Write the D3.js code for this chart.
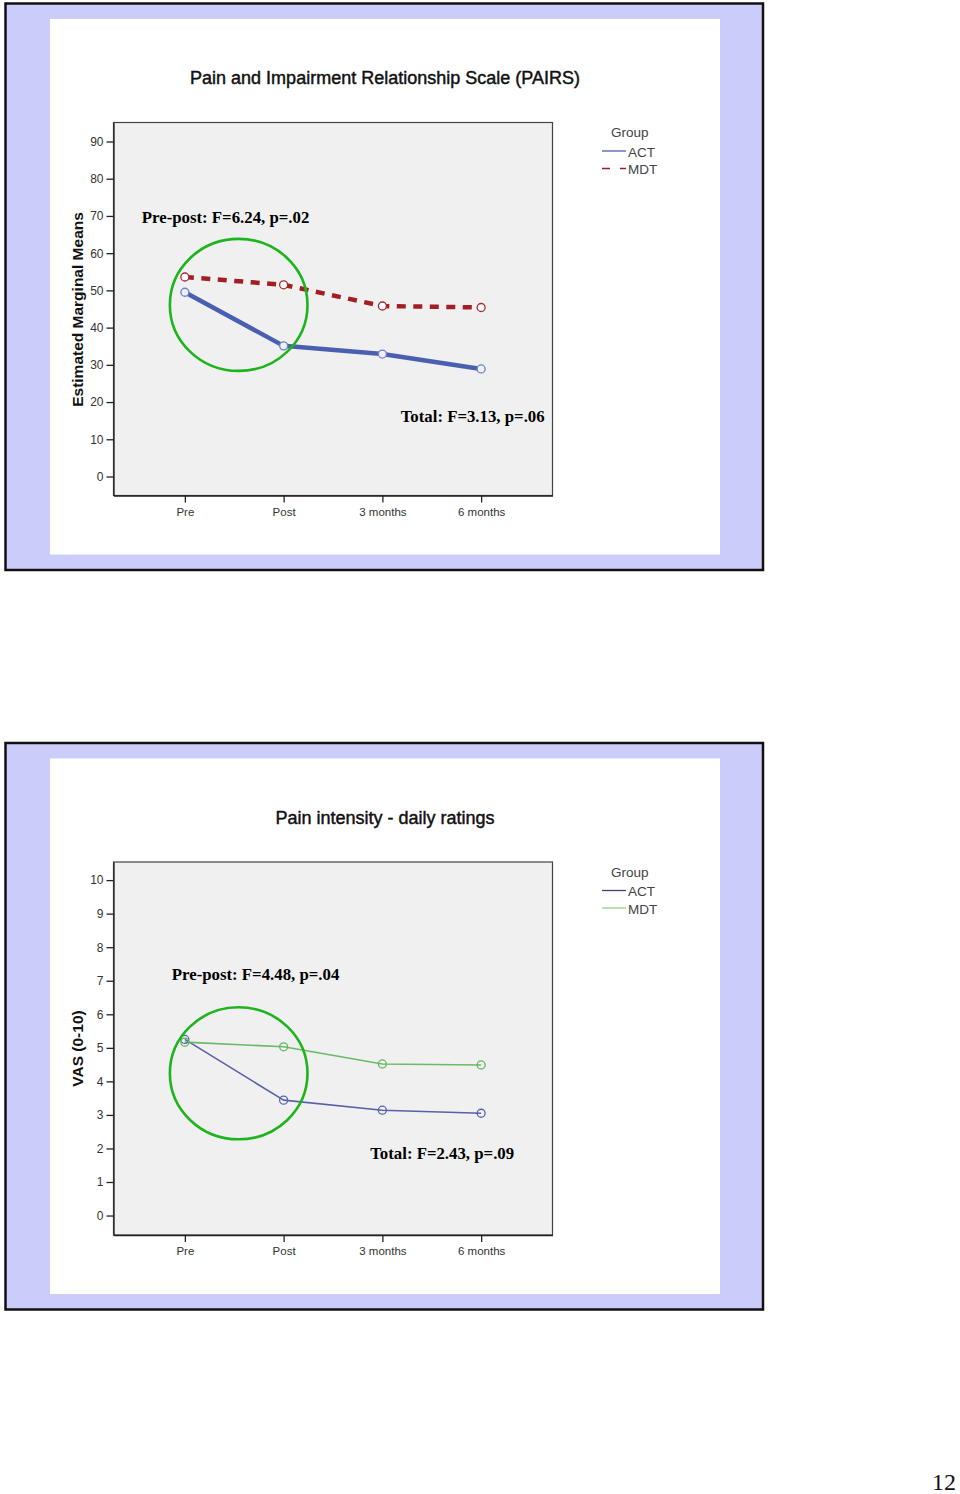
<!DOCTYPE html>
<html>
<head>
<meta charset="utf-8">
<script src="https://cdn.jsdelivr.net/npm/d3@7"></script>
<style>
  html, body { margin: 0; padding: 0; background: #ffffff; }
  svg { display: block; }
</style>
</head>
<body>
<svg id="page" width="960" height="1494"></svg>
<script>
// ---------- data ----------
const timepoints = ["Pre", "Post", "3 months", "6 months"];
const groups = ["ACT", "MDT"];

const pairsTitle = "Pain and Impairment Relationship Scale (PAIRS)";
const pairsYLabel = "Estimated Marginal Means";
const pairsTicks = [0, 10, 20, 30, 40, 50, 60, 70, 80, 90];
const pairsACT = [49.5, 35.1, 32.9, 28.9];
const pairsMDT = [53.6, 51.5, 45.8, 45.4];
const pairsPrePost = "Pre-post: F=6.24, p=.02";
const pairsTotal = "Total: F=3.13, p=.06";

const vasTitle = "Pain intensity - daily ratings";
const vasYLabel = "VAS (0-10)";
const vasTicks = [0, 1, 2, 3, 4, 5, 6, 7, 8, 9, 10];
const vasACT = [5.25, 3.44, 3.14, 3.05];
const vasMDT = [5.17, 5.03, 4.52, 4.49];
const vasPrePost = "Pre-post: F=4.48, p=.04";
const vasTotal = "Total: F=2.43, p=.09";

const pageNumber = "12";

// ---------- drawing ----------
const svg = d3.select("#page");
const SANS = "Arial, 'Liberation Sans', Helvetica, sans-serif";
const SERIF = "'Times New Roman', 'Liberation Serif', serif";

function drawPanel(cfg) {
  const oy = cfg.offsetY;
  const g = svg.append("g").attr("transform", `translate(0,${oy})`);

  // slide frame
  g.append("rect").attr("x", 5.5).attr("y", 3.5).attr("width", 757.5).attr("height", 566.5)
    .attr("fill", "#ccccfb").attr("stroke", "#111").attr("stroke-width", 2.5);
  g.append("rect").attr("x", 50).attr("y", 19).attr("width", 670).attr("height", 535.5)
    .attr("fill", "#ffffff");

  // title
  g.append("text").attr("x", 385).attr("y", 84).attr("text-anchor", "middle")
    .attr("font-family", SANS).attr("font-size", 18).attr("fill", "#111")
    .attr("stroke", "#111").attr("stroke-width", 0.45)
    .text(cfg.title);

  const plot = { left: 113.5, top: 122.5, width: 439, height: 373 };

  const x = d3.scalePoint().domain(timepoints)
    .range([plot.left, plot.left + plot.width]).padding(0.7226);
  const y = d3.scaleLinear().domain(cfg.yDomain)
    .range([plot.top + plot.height, plot.top]);

  // plot background
  g.append("rect").attr("x", plot.left).attr("y", plot.top)
    .attr("width", plot.width).attr("height", plot.height)
    .attr("fill", "#f0f0f0").attr("stroke", "#444").attr("stroke-width", 1.2);

  // y axis
  const yAxis = g.append("g").attr("transform", `translate(${plot.left},0)`)
    .call(d3.axisLeft(y).tickValues(cfg.ticks).tickSizeInner(7).tickSizeOuter(0)
      .tickPadding(3).tickFormat(d3.format("d")));
  yAxis.select(".domain").attr("stroke", "#222").attr("stroke-width", 1.3);
  yAxis.selectAll(".tick line").attr("stroke", "#222").attr("stroke-width", 1.3);
  yAxis.selectAll(".tick text").attr("font-family", SANS).attr("font-size", 12).attr("fill", "#333");

  // x axis
  const xAxis = g.append("g").attr("transform", `translate(0,${plot.top + plot.height})`)
    .call(d3.axisBottom(x).tickSizeInner(7).tickSizeOuter(0).tickPadding(5));
  xAxis.select(".domain").attr("stroke", "#222").attr("stroke-width", 1.3);
  xAxis.selectAll(".tick line").attr("stroke", "#222").attr("stroke-width", 1.3);
  xAxis.selectAll(".tick text").attr("font-family", SANS).attr("font-size", 11.5).attr("fill", "#333");

  // y label
  g.append("text")
    .attr("transform", `translate(${82.5},${cfg.yLabelCenter}) rotate(-90)`)
    .attr("text-anchor", "middle").attr("font-family", SANS).attr("font-weight", "bold")
    .attr("font-size", 15.5).attr("fill", "#111").text(cfg.yLabel);

  // lines
  const line = d3.line().x((d, i) => x(timepoints[i])).y(d => y(d));
  cfg.series.forEach(s => {
    g.append("path").datum(s.values).attr("d", line)
      .attr("fill", "none").attr("stroke", s.color).attr("stroke-width", s.width)
      .attr("stroke-dasharray", s.dash || null)
      .attr("stroke-linejoin", "round");
  });
  cfg.series.forEach(s => {
    g.selectAll(null).data(s.values).enter().append("circle")
      .attr("cx", (d, i) => x(timepoints[i])).attr("cy", d => y(d)).attr("r", 4)
      .attr("fill", s.markerFill).attr("stroke", s.markerStroke).attr("stroke-width", 1.3);
  });

  // highlight ellipse between Pre and Post
  const step = x.step();
  g.append("ellipse")
    .attr("cx", x("Pre") + step * 0.545)
    .attr("cy", y(cfg.ellipseY))
    .attr("rx", 68.8).attr("ry", 66)
    .attr("fill", "none").attr("stroke", "#1db41d").attr("stroke-width", 2.6);

  // annotations
  g.append("text").attr("x", plot.left + cfg.prePostDX).attr("y", y(cfg.prePostY))
    .attr("font-family", SERIF).attr("font-weight", "bold").attr("font-size", 16.8)
    .attr("fill", "#000").text(cfg.prePost);
  g.append("text").attr("x", x("6 months") + cfg.totalDX).attr("y", y(cfg.totalY))
    .attr("text-anchor", "end")
    .attr("font-family", SERIF).attr("font-weight", "bold").attr("font-size", 16.8)
    .attr("fill", "#000").text(cfg.total);

  // legend
  const lg = g.append("g");
  lg.append("text").attr("x", 611).attr("y", 137).attr("font-family", SANS)
    .attr("font-size", 13.5).attr("fill", "#444").text("Group");
  cfg.series.forEach((s, i) => {
    const ly = 151 + i * 17.5;
    lg.append("line").attr("x1", 602).attr("x2", 626).attr("y1", ly).attr("y2", ly)
      .attr("stroke", s.legendColor).attr("stroke-width", 1.3)
      .attr("stroke-dasharray", s.dash ? "8,10" : null);
    lg.append("text").attr("x", 628).attr("y", ly + 5.5).attr("font-family", SANS)
      .attr("font-size", 13.5).attr("fill", "#444").text(groups[i]);
  });
}

drawPanel({
  offsetY: 0,
  title: pairsTitle,
  yLabel: pairsYLabel,
  yLabelCenter: 309.5,
  ticks: pairsTicks,
  yDomain: [-5.1, 95.1],
  ellipseY: 46.1,
  prePost: pairsPrePost, prePostDX: 28.3, prePostY: 68.2,
  total: pairsTotal, totalDX: 63.5, totalY: 14.7,
  series: [
    { values: pairsACT, color: "#4a5fb0", width: 4.5, markerFill: "#eef0f6", markerStroke: "#6f80c8", legendColor: "#4a5fb0" },
    { values: pairsMDT, color: "#a31e24", width: 4.5, dash: "9,7.5", markerFill: "#ffffff", markerStroke: "#a52a30", legendColor: "#a31e24" }
  ]
});

drawPanel({
  offsetY: 739.5,
  title: vasTitle,
  yLabel: vasYLabel,
  yLabelCenter: 309,
  ticks: vasTicks,
  yDomain: [-0.58, 10.54],
  ellipseY: 4.24,
  prePost: vasPrePost, prePostDX: 58.3, prePostY: 7.02,
  total: vasTotal, totalDX: 33, totalY: 1.7,
  series: [
    { values: vasACT, color: "#5a60a8", width: 1.6, markerFill: "none", markerStroke: "#5a62b0", legendColor: "#3c4275" },
    { values: vasMDT, color: "#68bb68", width: 1.6, markerFill: "none", markerStroke: "#5cb85c", legendColor: "#90cf90" }
  ]
});

// page number
svg.append("text").attr("x", 932).attr("y", 1490).attr("font-family", SERIF)
  .attr("font-size", 24).attr("fill", "#111").text(pageNumber);
</script>
</body>
</html>
